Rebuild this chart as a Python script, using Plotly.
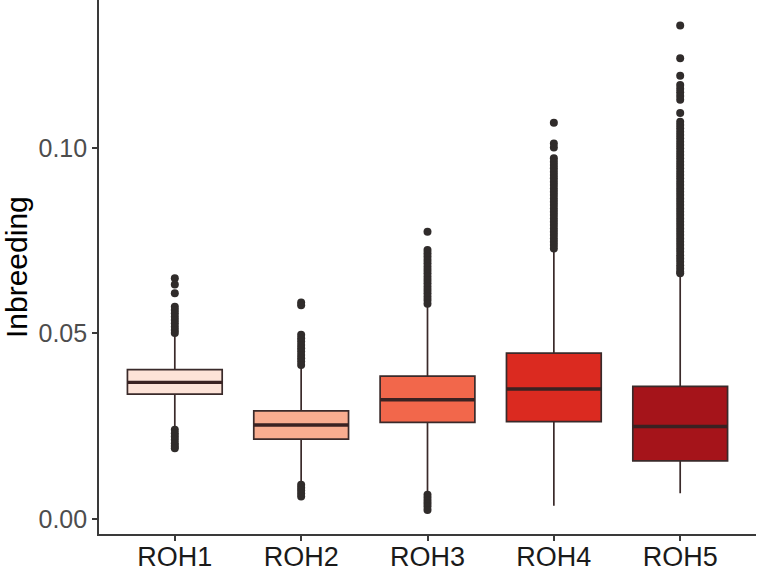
import plotly.graph_objects as go

categories = ["ROH1", "ROH2", "ROH3", "ROH4", "ROH5"]
fill_colors = ["#FDE3D8", "#F9AD90", "#F2674B", "#DB2A20", "#A5141A"]

q1 = [0.0336, 0.0215, 0.0260, 0.0262, 0.0156]
median = [0.0368, 0.0253, 0.0321, 0.0350, 0.0249]
q3 = [0.0402, 0.0291, 0.0385, 0.0447, 0.0357]
lower_whisker = [0.0244, 0.0097, 0.0070, 0.0035, 0.0069]
upper_whisker = [0.0498, 0.0410, 0.0575, 0.0724, 0.0656]

outliers = {
    "ROH1": [0.0649, 0.0632, 0.0608, 0.0572, 0.0563, 0.0554, 0.0545, 0.0536,
             0.0527, 0.0518, 0.0509, 0.0501,
             0.0240, 0.0231, 0.0222, 0.0213, 0.0204, 0.0196, 0.0190],
    "ROH2": [0.0583, 0.0576, 0.0496, 0.0487, 0.0478, 0.0469, 0.0460, 0.0451,
             0.0442, 0.0433, 0.0424, 0.0415,
             0.0092, 0.0084, 0.0076, 0.0068, 0.0060],
    "ROH3": [0.0774, 0.0725, 0.0716, 0.0707, 0.0698, 0.0689, 0.0680, 0.0671,
             0.0662, 0.0653, 0.0644, 0.0635, 0.0626, 0.0617, 0.0608, 0.0599,
             0.0590, 0.0580,
             0.0065, 0.0057, 0.0049, 0.0041, 0.0033, 0.0024],
    "ROH4": [0.1068, 0.1012, 0.1001, 0.0972, 0.0963, 0.0954, 0.0945, 0.0936,
             0.0927, 0.0918, 0.0909, 0.0900, 0.0891, 0.0882, 0.0873, 0.0864,
             0.0855, 0.0846, 0.0837, 0.0828, 0.0819, 0.0810, 0.0801, 0.0792,
             0.0783, 0.0774, 0.0765, 0.0756, 0.0747, 0.0738, 0.0729],
    "ROH5": [0.1330, 0.1242, 0.1195, 0.1170, 0.1160, 0.1150, 0.1140, 0.1130,
             0.1094, 0.1071, 0.1062, 0.1053, 0.1044, 0.1035, 0.1026, 0.1017,
             0.1008, 0.0999, 0.0990, 0.0981, 0.0972, 0.0963, 0.0954, 0.0945,
             0.0936, 0.0927, 0.0918, 0.0909, 0.0900, 0.0891, 0.0882, 0.0873,
             0.0864, 0.0855, 0.0846, 0.0837, 0.0828, 0.0819, 0.0810, 0.0801,
             0.0792, 0.0783, 0.0774, 0.0765, 0.0756, 0.0747, 0.0738, 0.0729,
             0.0720, 0.0711, 0.0702, 0.0693, 0.0684, 0.0675, 0.0666, 0.0662],
}

y_tick_vals = [0.00, 0.05, 0.10]
y_tick_text = ["0.00", "0.05", "0.10"]
y_title = "Inbreeding"

FONT = "Liberation Sans, Arial, Helvetica, sans-serif"
LINE = "#3a3a3a"

fig = go.Figure()

for i, cat in enumerate(categories):
    fig.add_trace(go.Box(
        x=[cat], q1=[q1[i]], median=[median[i]], q3=[q3[i]],
        lowerfence=[lower_whisker[i]], upperfence=[upper_whisker[i]],
        fillcolor=fill_colors[i], line=dict(color="#3a2a2a", width=1.7),
        width=0.75, whiskerwidth=0, boxpoints=False, showlegend=False,
        hoverinfo="skip",
    ))
    # thicker median bar (ggplot draws the median twice as thick)
    fig.add_trace(go.Box(
        x=[cat], q1=[median[i]], median=[median[i]], q3=[median[i]],
        lowerfence=[median[i]], upperfence=[median[i]],
        fillcolor="rgba(0,0,0,0)", line=dict(color="#3a2222", width=3.4),
        width=0.75, whiskerwidth=0, boxpoints=False, showlegend=False,
        hoverinfo="skip",
    ))
    fig.add_trace(go.Scatter(
        x=[cat] * len(outliers[cat]), y=outliers[cat], mode="markers",
        marker=dict(color="#302c2b", size=8, line=dict(width=0)),
        showlegend=False, hoverinfo="skip",
    ))

fig.add_annotation(
    text=y_title, xref="paper", yref="paper", x=-0.1263, y=0.5,
    xanchor="center", yanchor="middle", textangle=-90, showarrow=False,
    font=dict(family=FONT, size=30, color="#000000"),
)

fig.update_layout(
    width=759, height=573,
    margin=dict(l=99, r=3, t=0, b=39),
    paper_bgcolor="white", plot_bgcolor="white",
    boxmode="overlay",
    showlegend=False,
    xaxis=dict(
        type="category", categoryorder="array", categoryarray=categories,
        range=[-0.6, 4.6], showgrid=False, zeroline=False, automargin=False,
        showline=True, linecolor=LINE, linewidth=1.6,
        ticks="outside", ticklen=5, tickwidth=1.5, tickcolor=LINE,
        ticklabelstandoff=-7,
        tickfont=dict(family=FONT, size=27, color="#1a1a1a"),
    ),
    yaxis=dict(
        range=[-0.0041, 0.1399], tickvals=y_tick_vals, ticktext=y_tick_text,
        showgrid=False, zeroline=False, automargin=False,
        showline=True, linecolor=LINE, linewidth=1.6,
        ticks="outside", ticklen=5, tickwidth=1.5, tickcolor=LINE,
        tickfont=dict(family=FONT, size=25, color="#4d4d4d"),
    ),
)

fig.write_html(
    "out.html",
    config={"displayModeBar": False},
    post_script="document.body.style.margin='0';document.body.style.overflow='hidden';",
)
